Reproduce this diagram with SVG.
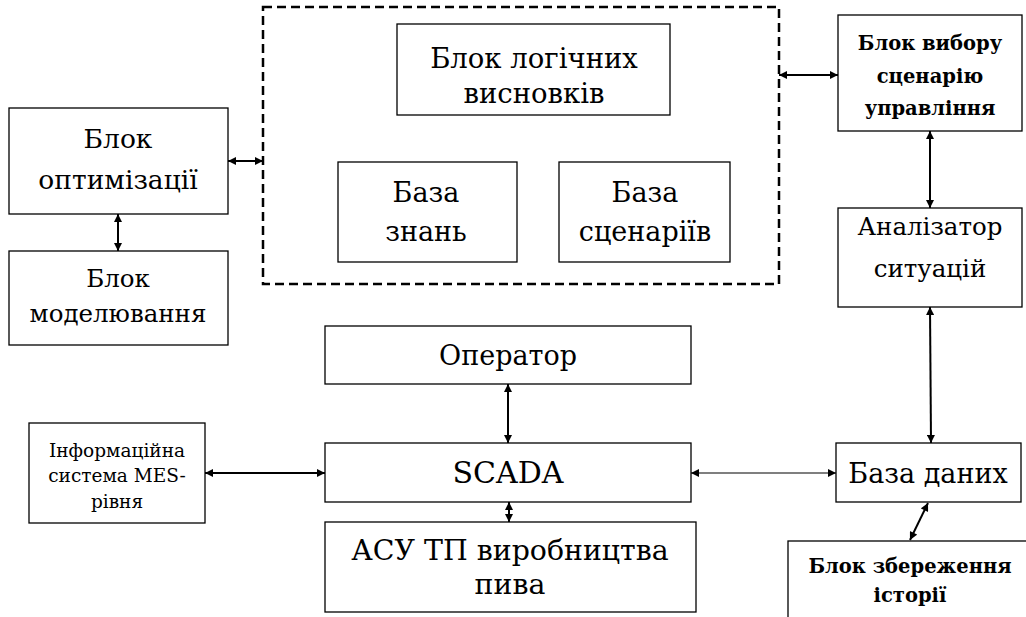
<svg xmlns="http://www.w3.org/2000/svg" width="1026" height="617" viewBox="0 0 1026 617">
<style>
.box{fill:#fff;stroke:#000;stroke-width:1.3}
.dash{fill:none;stroke:#000;stroke-width:2.5;stroke-dasharray:9 5}
text{fill:#000;text-anchor:middle;font-family:"DejaVu Serif","Liberation Serif",serif;font-size:27px}
.t17{font-size:18.5px}
.tb{font-size:19.5px;font-weight:bold}
.c{fill:none;stroke:#000;stroke-width:2}
.thin{fill:none;stroke:#000;stroke-width:1.2}
</style>
<defs>
<marker id="ah" viewBox="0 0 10 10" refX="10" refY="5" markerWidth="9" markerHeight="8" markerUnits="userSpaceOnUse" orient="auto-start-reverse">
<path d="M0,0 L10,5 L0,10 z" fill="#000"/>
</marker>
</defs>
<rect class="dash" x="263" y="7" width="516" height="277"/>
<g id="n-opt"><rect class="box" x="9" y="108" width="219" height="106"/><text style="font-size:26.5px" x="118" y="148">Блок</text><text style="font-size:26.5px" x="118" y="189">оптимізації</text></g>
<g id="n-model"><rect class="box" x="9" y="251" width="219" height="94"/><text style="font-size:24.5px" x="118" y="287">Блок</text><text style="font-size:24.5px" x="118" y="322">моделювання</text></g>
<g id="n-logic"><rect class="box" x="397" y="24" width="273" height="91"/><text style="font-size:27.5px" x="534" y="68">Блок логічних</text><text style="font-size:27.5px" x="534" y="103">висновків</text></g>
<g id="n-know"><rect class="box" x="338" y="162" width="179" height="100"/><text x="426" y="202">База</text><text x="426" y="241">знань</text></g>
<g id="n-scen"><rect class="box" x="559" y="162" width="171" height="100"/><text x="645" y="202">База</text><text x="645" y="241">сценаріїв</text></g>
<g id="n-choice"><rect class="box" x="838" y="15" width="184" height="116"/><text class="tb" x="930" y="50">Блок вибору</text><text class="tb" x="930" y="83">сценарію</text><text class="tb" x="930" y="115">управління</text></g>
<g id="n-anal"><rect class="box" x="838" y="208" width="184" height="99"/><text style="font-size:24.5px" x="930" y="235">Аналізатор</text><text style="font-size:24.5px" x="930" y="277">ситуацій</text></g>
<g id="n-oper"><rect class="box" x="325" y="326" width="366" height="58"/><text x="508" y="365">Оператор</text></g>
<g id="n-scada"><rect class="box" x="325" y="443" width="366" height="59"/><text style="font-size:30px" x="508" y="483">SCADA</text></g>
<g id="n-asu"><rect class="box" x="325" y="522" width="371" height="90"/><text style="font-size:28.4px" x="510" y="560">АСУ ТП виробництва</text><text style="font-size:28.4px" x="510" y="594">пива</text></g>
<g id="n-mes"><rect class="box" x="29" y="423" width="176" height="100"/><text class="t17" x="117" y="457">Інформаційна</text><text class="t17" x="117" y="482">система MES-</text><text class="t17" x="117" y="508">рівня</text></g>
<g id="n-db"><rect class="box" x="836" y="443" width="185" height="59"/><text x="928" y="483">База даних</text></g>
<g id="n-hist"><rect class="box" x="788" y="541" width="250" height="90"/><text class="tb" x="910" y="573">Блок збереження</text><text class="tb" x="910" y="602">історії</text></g>
<g id="connectors">
<line class="c" x1="228" y1="161" x2="263" y2="161" marker-start="url(#ah)" marker-end="url(#ah)"/>
<line class="c" x1="118" y1="214" x2="118" y2="251" marker-start="url(#ah)" marker-end="url(#ah)"/>
<line class="c" x1="779" y1="75" x2="838" y2="75" marker-start="url(#ah)" marker-end="url(#ah)"/>
<line class="c" x1="930" y1="131" x2="930" y2="208" marker-start="url(#ah)" marker-end="url(#ah)"/>
<line class="c" x1="930" y1="307" x2="931" y2="443" marker-start="url(#ah)" marker-end="url(#ah)"/>
<line class="c" x1="508" y1="384" x2="508" y2="443" marker-start="url(#ah)" marker-end="url(#ah)"/>
<line class="c" x1="509" y1="502" x2="509" y2="522" marker-start="url(#ah)" marker-end="url(#ah)"/>
<line class="c" x1="205" y1="473" x2="325" y2="473" marker-start="url(#ah)" marker-end="url(#ah)"/>
<line class="thin" x1="691" y1="473" x2="836" y2="473" marker-start="url(#ah)" marker-end="url(#ah)"/>
<line class="c" x1="910" y1="540" x2="928" y2="503" marker-start="url(#ah)" marker-end="url(#ah)"/>
</g>
</svg>
